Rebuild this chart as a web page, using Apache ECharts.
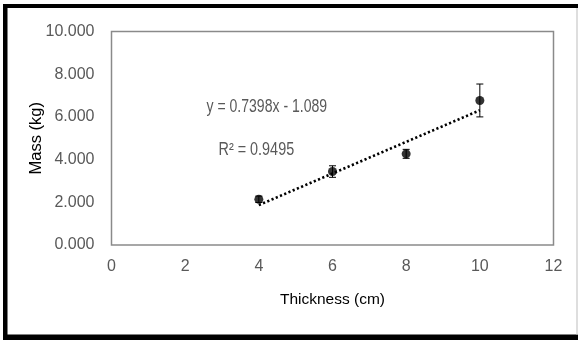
<!DOCTYPE html>
<html>
<head>
<meta charset="utf-8">
<script src="https://cdn.jsdelivr.net/npm/echarts@6/dist/echarts.min.js"></script>
<style>
html,body{margin:0;padding:0;background:#fff;}
#c{width:578px;height:340px;}
</style>
</head>
<body>
<div id="c"></div>
<script>
// Data
const thickness = [4, 6, 8, 10];
const massMean = [2.14, 3.44, 4.27, 6.77];
const massErr = [0.15, 0.27, 0.21, 0.77];
const trendX = [4, 10];
const trendY = [1.87, 6.31];
const xTicks = [0, 2, 4, 6, 8, 10, 12];
const yTicks = [0, 2, 4, 6, 8, 10];
const eqText = 'y = 0.7398x - 1.089';
const r2Text = 'R² = 0.9495';

const FONT = "'Liberation Sans',Arial,sans-serif";

const chart = echarts.init(document.getElementById('c'), null, {renderer: 'canvas'});

const points = thickness.map((x, i) => [x, massMean[i]]);
const errData = thickness.map((x, i) => [x, massMean[i] - massErr[i], massMean[i] + massErr[i]]);
const trend = trendX.map((x, i) => [x, trendY[i]]);

chart.setOption({
  animation: false,
  backgroundColor: '#fff',
  grid: {
    left: 111.5, right: 24.5, top: 31.5, bottom: 95,
    show: true, borderColor: '#8a8a8a', borderWidth: 1.5, backgroundColor: 'transparent'
  },
  xAxis: {
    type: 'value', min: xTicks[0], max: xTicks[xTicks.length - 1], interval: 2,
    axisLine: {show: false}, axisTick: {show: false}, splitLine: {show: false},
    axisLabel: {color: '#595959', fontFamily: FONT, fontSize: 16, margin: 14},
    name: 'Thickness (cm)', nameLocation: 'middle', nameGap: 47, nameMoveOverlap: false,
    nameTextStyle: {color: '#000', fontFamily: FONT, fontSize: 15.5}
  },
  yAxis: {
    type: 'value', min: yTicks[0], max: yTicks[yTicks.length - 1], interval: 2,
    axisLine: {show: false}, axisTick: {show: false}, splitLine: {show: false},
    axisLabel: {color: '#595959', fontFamily: FONT, fontSize: 16, margin: 17,
      formatter: v => v.toFixed(3)},
    name: 'Mass (kg)', nameLocation: 'middle', nameGap: 67, nameMoveOverlap: false,
    nameTextStyle: {color: '#000', fontFamily: FONT, fontSize: 16.5}
  },
  graphic: [
    {type: 'rect', shape: {x: 3, y: 4, width: 4.5, height: 336}, style: {fill: '#000'}, silent: true},
    {type: 'rect', shape: {x: 3, y: 4, width: 575, height: 4}, style: {fill: '#000'}, silent: true},
    {type: 'rect', shape: {x: 3, y: 334.5, width: 575, height: 5.5}, style: {fill: '#000'}, silent: true},
    {type: 'rect', shape: {x: 576.5, y: 8, width: 1, height: 327}, style: {fill: '#bdbdbd'}, silent: true},
    {type: 'text', x: 206.5, y: 98.5, scaleX: 0.78,
      style: {text: eqText, fill: '#595959', font: '18px ' + FONT}},
    {type: 'text', x: 218.5, y: 141.5, scaleX: 0.8,
      style: {text: r2Text, fill: '#595959', font: '18px ' + FONT}}
  ],
  series: [
    {
      type: 'line', data: trend, symbol: 'none', silent: true, z: 2,
      lineStyle: {color: '#000', width: 2.6, type: [2.2, 2.4], cap: 'butt'}
    },
    {
      type: 'custom', data: errData, z: 3, silent: true,
      renderItem: function (params, api) {
        const x = api.value(0);
        const lo = api.coord([x, api.value(1)]);
        const hi = api.coord([x, api.value(2)]);
        const cap = 3.5;
        const st = {stroke: '#000', lineWidth: 1};
        return {
          type: 'group',
          children: [
            {type: 'line', shape: {x1: lo[0], y1: lo[1], x2: hi[0], y2: hi[1]}, style: st},
            {type: 'line', shape: {x1: lo[0] - cap, y1: lo[1], x2: lo[0] + cap, y2: lo[1]}, style: st},
            {type: 'line', shape: {x1: hi[0] - cap, y1: hi[1], x2: hi[0] + cap, y2: hi[1]}, style: st}
          ]
        };
      }
    },
    {
      type: 'scatter', data: points, symbol: 'circle', symbolSize: 9, z: 4,
      itemStyle: {color: '#000'}
    }
  ]
});
</script>
</body>
</html>
